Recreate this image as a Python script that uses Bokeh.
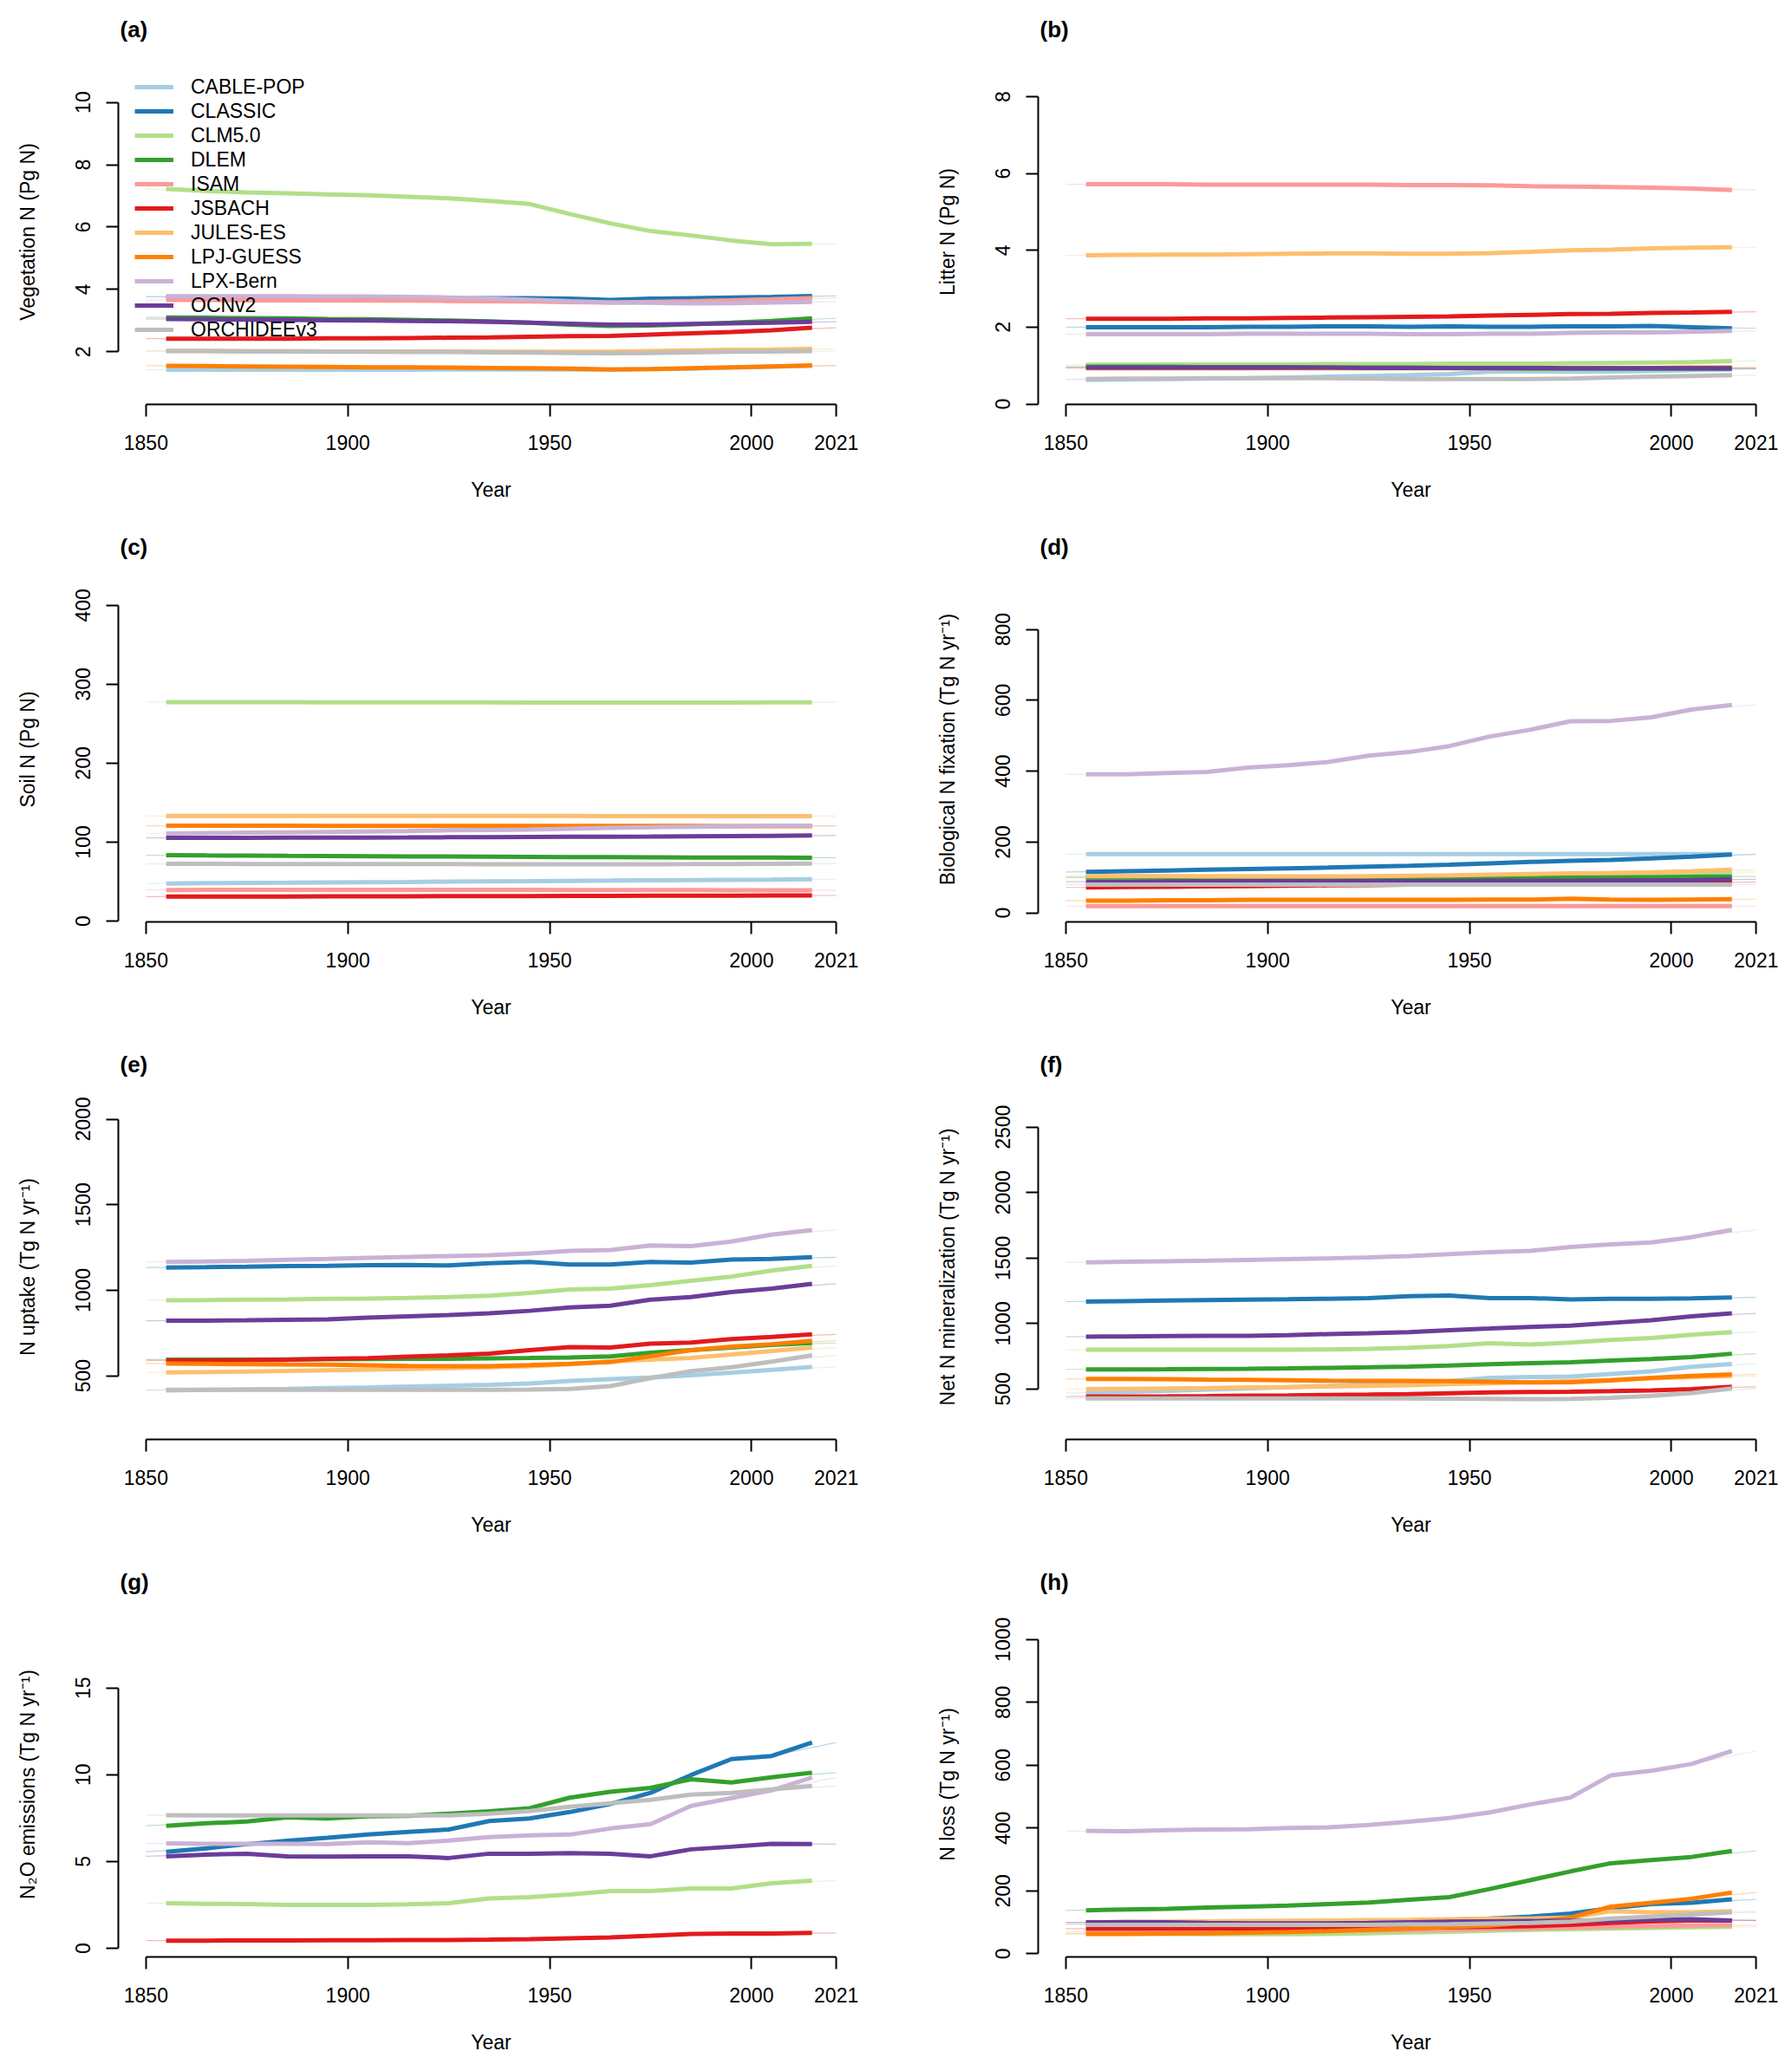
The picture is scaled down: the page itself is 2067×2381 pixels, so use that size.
from bokeh.plotting import figure
from bokeh.models import FixedTicker, Legend, LegendItem, Range1d
from bokeh.layouts import column, row
from bokeh.embed import file_html
from bokeh.resources import INLINE

MODELS = ["CABLE-POP", "CLASSIC", "CLM5.0", "DLEM", "ISAM", "JSBACH",
          "JULES-ES", "LPJ-GUESS", "LPX-Bern", "OCNv2", "ORCHIDEEv3"]
COLORS = ["#A6CEE3", "#1F78B4", "#B2DF8A", "#33A02C", "#FB9A99", "#E31A1C",
          "#FDBF6F", "#FF7F00", "#CAB2D6", "#6A3D9A", "#BEBEBE"]

# running-mean years (thick lines) and annual span (thin lines)
YEARS = [1855, 1865, 1875, 1885, 1895, 1905, 1915, 1925, 1935, 1945,
         1955, 1965, 1975, 1985, 1995, 2005, 2015]
ANNUAL_YEARS = [1850, 1865, 1875, 1885, 1895, 1905, 1915, 1925, 1935, 1945,
                1955, 1965, 1975, 1985, 1995, 2005, 2021]
X_TICKS = [1850, 1900, 1950, 2000, 2021]

VEG_N = {
    "CABLE-POP": [1.42, 1.42, 1.42, 1.42, 1.42, 1.42, 1.42, 1.43, 1.43, 1.43, 1.43, 1.43, 1.44, 1.46, 1.49, 1.52, 1.55],
    "CLASSIC": [3.76, 3.75, 3.74, 3.73, 3.72, 3.71, 3.71, 3.71, 3.72, 3.72, 3.70, 3.66, 3.70, 3.72, 3.74, 3.76, 3.79],
    "CLM5.0": [7.22, 7.16, 7.11, 7.08, 7.05, 7.02, 6.97, 6.92, 6.84, 6.74, 6.42, 6.12, 5.87, 5.73, 5.57, 5.45, 5.46],
    "DLEM": [3.10, 3.09, 3.08, 3.07, 3.05, 3.04, 3.02, 3.00, 2.97, 2.93, 2.87, 2.83, 2.84, 2.88, 2.93, 2.99, 3.07],
    "ISAM": [3.66, 3.66, 3.65, 3.65, 3.65, 3.64, 3.64, 3.63, 3.62, 3.61, 3.59, 3.58, 3.60, 3.62, 3.65, 3.68, 3.72],
    "JSBACH": [2.42, 2.42, 2.42, 2.42, 2.43, 2.43, 2.44, 2.45, 2.46, 2.48, 2.50, 2.51, 2.55, 2.59, 2.63, 2.69, 2.77],
    "JULES-ES": [2.03, 2.03, 2.02, 2.02, 2.01, 2.01, 2.01, 2.01, 2.00, 2.00, 2.00, 2.00, 2.02, 2.04, 2.06, 2.07, 2.09],
    "LPJ-GUESS": [1.55, 1.54, 1.53, 1.52, 1.51, 1.50, 1.50, 1.49, 1.48, 1.47, 1.46, 1.43, 1.44, 1.47, 1.50, 1.53, 1.56],
    "LPX-Bern": [3.78, 3.78, 3.78, 3.78, 3.77, 3.77, 3.76, 3.74, 3.71, 3.67, 3.62, 3.58, 3.57, 3.55, 3.56, 3.58, 3.60],
    "OCNv2": [3.05, 3.04, 3.03, 3.02, 3.01, 3.00, 2.99, 2.98, 2.96, 2.93, 2.90, 2.87, 2.87, 2.89, 2.91, 2.93, 2.96],
    "ORCHIDEEv3": [2.02, 2.02, 2.01, 2.01, 2.00, 2.00, 1.99, 1.99, 1.98, 1.97, 1.96, 1.95, 1.96, 1.98, 2.00, 2.01, 2.02],
}

LITTER_N = {
    "CABLE-POP": [0.63, 0.64, 0.65, 0.66, 0.67, 0.69, 0.71, 0.73, 0.75, 0.78, 0.84, 0.85, 0.84, 0.85, 0.86, 0.88, 0.90],
    "CLASSIC": [2.00, 2.00, 2.00, 2.00, 2.01, 2.01, 2.02, 2.02, 2.01, 2.02, 2.01, 2.01, 2.02, 2.02, 2.03, 2.00, 1.97],
    "CLM5.0": [1.02, 1.02, 1.03, 1.03, 1.03, 1.03, 1.04, 1.04, 1.04, 1.05, 1.05, 1.05, 1.06, 1.07, 1.08, 1.09, 1.12],
    "DLEM": [0.97, 0.97, 0.97, 0.96, 0.96, 0.96, 0.95, 0.95, 0.95, 0.94, 0.93, 0.92, 0.92, 0.92, 0.92, 0.92, 0.92],
    "ISAM": [5.72, 5.72, 5.72, 5.71, 5.71, 5.71, 5.71, 5.71, 5.70, 5.70, 5.69, 5.67, 5.66, 5.65, 5.63, 5.61, 5.57],
    "JSBACH": [2.22, 2.22, 2.22, 2.23, 2.23, 2.24, 2.25, 2.26, 2.27, 2.28, 2.30, 2.32, 2.34, 2.35, 2.37, 2.38, 2.40],
    "JULES-ES": [3.87, 3.88, 3.89, 3.89, 3.90, 3.91, 3.92, 3.92, 3.91, 3.91, 3.93, 3.96, 4.00, 4.02, 4.05, 4.07, 4.08],
    "LPJ-GUESS": [0.93, 0.93, 0.93, 0.93, 0.93, 0.93, 0.93, 0.93, 0.93, 0.93, 0.93, 0.93, 0.93, 0.94, 0.94, 0.95, 0.95],
    "LPX-Bern": [1.82, 1.82, 1.82, 1.82, 1.83, 1.83, 1.83, 1.83, 1.82, 1.82, 1.83, 1.83, 1.85, 1.86, 1.86, 1.88, 1.90],
    "OCNv2": [0.95, 0.95, 0.95, 0.95, 0.95, 0.95, 0.95, 0.94, 0.94, 0.94, 0.94, 0.94, 0.93, 0.93, 0.93, 0.93, 0.93],
    "ORCHIDEEv3": [0.65, 0.66, 0.66, 0.67, 0.67, 0.67, 0.67, 0.66, 0.65, 0.65, 0.65, 0.65, 0.66, 0.69, 0.71, 0.73, 0.75],
}

SOIL_N = {
    "CABLE-POP": [47.7, 48.0, 48.3, 48.6, 49.0, 49.3, 49.6, 50.0, 50.3, 50.6, 51.0, 51.3, 51.7, 52.0, 52.3, 52.6, 53.0],
    "CLM5.0": [277.4, 277.4, 277.3, 277.3, 277.2, 277.2, 277.1, 277.0, 277.0, 276.9, 276.8, 276.7, 276.7, 276.7, 276.8, 277.0, 277.2],
    "DLEM": [83.5, 83.2, 83.0, 82.7, 82.5, 82.3, 82.0, 81.8, 81.6, 81.4, 81.2, 81.0, 80.8, 80.6, 80.5, 80.4, 80.3],
    "ISAM": [39.4, 39.5, 39.5, 39.5, 39.5, 39.5, 39.5, 39.5, 39.5, 39.5, 39.4, 39.4, 39.3, 39.3, 39.2, 39.1, 39.0],
    "JSBACH": [31.0, 31.0, 31.1, 31.2, 31.3, 31.4, 31.5, 31.6, 31.7, 31.8, 31.9, 32.0, 32.1, 32.2, 32.3, 32.4, 32.5],
    "JULES-ES": [133.2, 133.2, 133.2, 133.2, 133.2, 133.2, 133.1, 133.1, 133.1, 133.1, 133.1, 133.0, 133.0, 133.0, 133.0, 133.0, 133.0],
    "LPJ-GUESS": [120.8, 120.8, 120.8, 120.8, 120.7, 120.7, 120.7, 120.7, 120.6, 120.6, 120.6, 120.5, 120.5, 120.5, 120.4, 120.4, 120.4],
    "LPX-Bern": [111.0, 111.5, 112.0, 112.5, 113.0, 113.5, 114.0, 115.0, 115.5, 116.0, 117.0, 118.0, 119.0, 119.5, 120.0, 120.5, 121.0],
    "OCNv2": [105.4, 105.5, 105.6, 105.7, 105.8, 105.9, 106.0, 106.2, 106.4, 106.6, 106.8, 107.0, 107.2, 107.5, 107.8, 108.1, 108.4],
    "ORCHIDEEv3": [72.5, 72.5, 72.4, 72.4, 72.3, 72.3, 72.2, 72.2, 72.1, 72.1, 72.0, 72.0, 72.1, 72.2, 72.4, 72.6, 72.8],
}

BNF = {
    "CABLE-POP": [166, 166, 166, 166, 166, 166, 166, 166, 166, 166, 166, 166, 166, 166, 166, 166, 166],
    "CLASSIC": [116, 118, 120, 122, 124, 126, 128, 131, 133, 136, 140, 144, 147, 150, 154, 159, 165],
    "CLM5.0": [103, 103, 103, 103, 103, 102, 102, 102, 102, 103, 104, 105, 106, 108, 110, 113, 116],
    "DLEM": [100, 100, 100, 99, 99, 98, 98, 97, 97, 97, 98, 99, 100, 101, 101, 102, 103],
    "ISAM": [19.5, 19.5, 19.5, 19.5, 19.5, 19.5, 19.5, 19.5, 19.5, 19.5, 19.5, 19.5, 19.5, 19.5, 19.5, 19.5, 19.5],
    "JSBACH": [72, 73, 74, 75, 76, 77, 78, 79, 80, 81, 82, 83, 84, 85, 85, 86, 87],
    "JULES-ES": [104, 104, 104, 103, 103, 103, 103, 104, 105, 106, 108, 110, 112, 113, 115, 118, 122],
    "LPJ-GUESS": [35, 35, 36, 36, 37, 37, 37, 37, 37, 37, 38, 38, 40, 38, 37, 38, 39],
    "LPX-Bern": [391, 391, 395, 398, 410, 417, 426, 444, 454, 471, 498, 517, 541, 542, 552, 574, 587],
    "OCNv2": [88, 88, 89, 89, 90, 90, 90, 90, 90, 90, 91, 91, 91, 92, 92, 93, 95],
    "ORCHIDEEv3": [80, 80, 80, 80, 80, 80, 80, 80, 80, 80, 80, 80, 80, 80, 80, 80, 80],
}

N_UPTAKE = {
    "CABLE-POP": [415, 418, 421, 424, 428, 432, 437, 442, 448, 455, 470, 480, 490, 503, 518, 535, 552],
    "CLASSIC": [1133, 1135, 1138, 1142, 1143, 1147, 1148, 1145, 1158, 1165, 1150, 1150, 1165, 1162, 1180, 1183, 1193],
    "CLM5.0": [942, 943, 945, 947, 950, 952, 955, 960, 968, 985, 1005, 1010, 1030, 1055, 1080, 1115, 1143],
    "DLEM": [595, 595, 595, 596, 597, 598, 599, 600, 602, 604, 607, 613, 635, 650, 665, 680, 692],
    "JSBACH": [590, 590, 592, 595, 600, 603, 612, 620, 630, 650, 668, 665, 688, 695, 715, 728, 742],
    "JULES-ES": [520, 522, 525, 528, 532, 536, 540, 545, 550, 557, 568, 585, 595, 605, 625, 645, 665],
    "LPJ-GUESS": [572, 570, 568, 566, 565, 562, 558, 556, 557, 563, 570, 580, 615, 650, 670, 685, 705],
    "LPX-Bern": [1165, 1168, 1172, 1178, 1183, 1190, 1195, 1200, 1205, 1215, 1230, 1235, 1262, 1258, 1285, 1325, 1352],
    "OCNv2": [822, 823, 825, 828, 830, 840, 848, 855, 865, 880, 900, 910, 945, 960, 990, 1010, 1038],
    "ORCHIDEEv3": [418, 418, 418, 418, 418, 418, 418, 418, 418, 420, 423, 440, 487, 527, 550, 583, 620],
}

N_MINERAL = {
    "CABLE-POP": [470, 478, 487, 496, 505, 515, 525, 538, 550, 560, 585, 592, 595, 615, 635, 670, 692],
    "CLASSIC": [1168, 1172, 1176, 1180, 1183, 1186, 1190, 1195, 1210, 1215, 1195, 1195, 1185, 1190, 1190, 1192, 1200],
    "CLM5.0": [800, 800, 800, 800, 800, 800, 802, 808, 815, 828, 850, 840, 855, 875, 890, 915, 935],
    "DLEM": [650, 650, 651, 653, 655, 658, 662, 666, 672, 680, 690, 698, 705, 718, 730, 745, 770],
    "JSBACH": [443, 444, 445, 447, 450, 452, 455, 458, 462, 468, 474, 478, 480, 484, 490, 500, 518],
    "JULES-ES": [500, 502, 505, 508, 512, 515, 520, 525, 530, 537, 545, 552, 560, 570, 582, 592, 600],
    "LPJ-GUESS": [578, 577, 575, 572, 570, 567, 564, 563, 562, 560, 556, 550, 553, 565, 585, 600, 612],
    "LPX-Bern": [1468, 1472, 1476, 1480, 1486, 1492, 1498, 1505, 1515, 1530, 1545, 1555, 1585, 1605, 1620, 1660, 1715],
    "OCNv2": [900, 902, 905, 906, 906, 912, 920, 926, 935, 950, 962, 975, 985, 1005, 1025, 1055, 1078],
    "ORCHIDEEv3": [428, 428, 428, 428, 428, 428, 428, 428, 428, 427, 425, 423, 425, 433, 448, 470, 505],
}

N2O = {
    "CLASSIC": [5.56, 5.76, 6.00, 6.19, 6.37, 6.56, 6.71, 6.84, 7.33, 7.48, 7.85, 8.31, 8.96, 9.98, 10.9, 11.08, 11.86],
    "CLM5.0": [2.60, 2.56, 2.55, 2.50, 2.50, 2.50, 2.53, 2.60, 2.87, 2.95, 3.10, 3.30, 3.30, 3.45, 3.45, 3.75, 3.90],
    "DLEM": [7.06, 7.20, 7.30, 7.54, 7.48, 7.61, 7.63, 7.76, 7.89, 8.07, 8.68, 9.02, 9.24, 9.74, 9.55, 9.85, 10.12],
    "JSBACH": [0.44, 0.44, 0.45, 0.45, 0.46, 0.46, 0.47, 0.48, 0.50, 0.53, 0.58, 0.63, 0.72, 0.82, 0.85, 0.85, 0.88],
    "LPX-Bern": [6.04, 6.02, 6.02, 6.02, 6.00, 6.10, 6.05, 6.20, 6.40, 6.50, 6.55, 6.90, 7.15, 8.20, 8.65, 9.10, 9.85],
    "OCNv2": [5.30, 5.40, 5.45, 5.30, 5.28, 5.30, 5.30, 5.20, 5.45, 5.45, 5.48, 5.45, 5.30, 5.70, 5.85, 6.02, 6.00],
    "ORCHIDEEv3": [7.67, 7.65, 7.65, 7.65, 7.65, 7.65, 7.65, 7.65, 7.75, 7.90, 8.15, 8.35, 8.55, 8.85, 8.95, 9.15, 9.35],
}

N_LOSS = {
    "CLASSIC": [96, 96, 97, 98, 99, 100, 101, 103, 105, 108, 112, 118, 128, 145, 158, 162, 173],
    "CLM5.0": [65, 64, 63, 62, 62, 62, 63, 65, 68, 70, 73, 76, 78, 80, 82, 84, 86],
    "DLEM": [138, 141, 143, 147, 150, 153, 158, 163, 172, 180, 206, 234, 262, 288, 298, 308, 327],
    "ISAM": [70, 70, 71, 71, 72, 72, 73, 74, 75, 77, 79, 81, 83, 86, 88, 90, 91],
    "JSBACH": [80, 80, 80, 80, 80, 80, 80, 81, 82, 84, 86, 88, 92, 98, 103, 106, 106],
    "JULES-ES": [100, 101, 102, 103, 104, 105, 106, 107, 108, 110, 112, 112, 115, 135, 132, 132, 135],
    "LPJ-GUESS": [63, 63, 64, 65, 67, 69, 72, 76, 80, 85, 90, 100, 115, 150, 162, 175, 195],
    "LPX-Bern": [391, 390, 393, 395, 396, 400, 402, 410, 420, 432, 450, 475, 497, 568, 582, 604, 645],
    "OCNv2": [100, 101, 100, 98, 97, 97, 97, 98, 100, 102, 103, 104, 105, 106, 109, 110, 106],
    "ORCHIDEEv3": [92, 92, 92, 92, 92, 92, 92, 92, 93, 94, 96, 98, 102, 112, 118, 125, 132],
}

PANELS = [
    ("(a)", "Vegetation N (Pg N)", VEG_N, [2, 4, 6, 8, 10], (0.31, 11.38)),
    ("(b)", "Litter N (Pg N)", LITTER_N, [0, 2, 4, 6, 8], (-0.01, 8.97)),
    ("(c)", "Soil N (Pg N)", SOIL_N, [0, 100, 200, 300, 400], (-1.0, 436.0)),
    ("(d)", "Biological N fixation (Tg N yr\u207b\u00b9)", BNF, [0, 200, 400, 600, 800], (-25.2, 948.4)),
    ("(e)", "N uptake (Tg N yr\u207b\u00b9)", N_UPTAKE, [500, 1000, 1500, 2000], (128.4, 2144.5)),
    ("(f)", "Net N mineralization (Tg N yr\u207b\u00b9)", N_MINERAL, [500, 1000, 1500, 2000, 2500], (115.7, 2749.6)),
    ("(g)", "N\u2082O emissions (Tg N yr\u207b\u00b9)", N2O, [0, 5, 10, 15], (-0.50, 19.38)),
    ("(h)", "N loss (Tg N yr\u207b\u00b9)", N_LOSS, [0, 200, 400, 600, 800, 1000], (-10.2, 1087.7)),
]

FONT = "Liberation Sans"
ROW_H = [597, 597, 597, 590]
FRAME_TOP = 68
FRAME_H = 398
FS = "23px"


def style_axis(ax):
    ax.axis_line_color = "black"
    ax.axis_line_width = 2
    ax.major_tick_line_color = "black"
    ax.major_tick_line_width = 2
    ax.major_tick_in = 0
    ax.major_tick_out = 14
    ax.minor_tick_line_color = None
    ax.major_label_text_font = FONT
    ax.major_label_text_font_size = FS
    ax.major_label_text_color = "black"
    ax.axis_label_text_font = FONT
    ax.axis_label_text_font_size = FS
    ax.axis_label_text_font_style = "normal"
    ax.axis_label_text_color = "black"


def make_panel(idx, letter, ylabel, data, yticks, yr):
    r = idx // 2
    left_col = (idx % 2 == 0)
    width = 1033 if left_col else 1034
    bl = 136 if left_col else 164
    br = width - bl - 860
    h = ROW_H[r]
    p = figure(width=width, height=h, output_backend="svg", toolbar_location=None,
               x_range=Range1d(1843.16, 2027.84), y_range=Range1d(yr[0], yr[1]),
               min_border_left=bl, min_border_right=br,
               min_border_top=FRAME_TOP, min_border_bottom=h - FRAME_TOP - FRAME_H)
    p.outline_line_color = None
    p.grid.visible = False
    p.background_fill_color = "white"
    p.border_fill_color = "white"

    p.title.text = letter
    p.title.align = "left"
    p.title.offset = 2
    p.title.vertical_align = "top"
    p.title.standoff = 35
    p.title.text_font = FONT
    p.title.text_font_size = "26px"
    p.title.text_font_style = "bold"
    p.title.text_color = "black"

    renderers = {}
    for m, c in zip(MODELS, COLORS):
        if m in data:
            p.line(ANNUAL_YEARS, data[m], line_color=c, line_width=1.2, line_alpha=0.3)
    for m, c in zip(MODELS, COLORS):
        if m in data:
            renderers[m] = p.line(YEARS, data[m], line_color=c, line_width=5)

    xa = p.xaxis[0]
    style_axis(xa)
    xa.ticker = FixedTicker(ticks=X_TICKS)
    xa.bounds = (X_TICKS[0], X_TICKS[-1])
    xa.major_label_standoff = 21
    xa.axis_label = "Year"
    xa.axis_label_standoff = 30

    ya = p.yaxis[0]
    style_axis(ya)
    ya.ticker = FixedTicker(ticks=yticks)
    ya.bounds = (yticks[0], yticks[-1])
    ya.major_label_orientation = "vertical"
    ya.major_label_standoff = 18
    ya.axis_label = ylabel
    ya.axis_label_standoff = 40

    if idx == 0:
        items = [LegendItem(label=m, renderers=[renderers[m]]) for m in MODELS if m in renderers]
        leg = Legend(items=items, location=(19, 72), orientation="vertical",
                     glyph_width=45, glyph_height=28, label_height=28, spacing=0,
                     padding=0, margin=0, label_standoff=20,
                     label_text_font=FONT, label_text_font_size=FS,
                     label_text_color="black",
                     border_line_alpha=0, background_fill_alpha=0)
        p.add_layout(leg)
    return p


figs = [make_panel(i, *pan) for i, pan in enumerate(PANELS)]
layout = column(*[row(figs[2 * k], figs[2 * k + 1]) for k in range(4)])

open("out.html", "w").write(file_html(layout, INLINE))
